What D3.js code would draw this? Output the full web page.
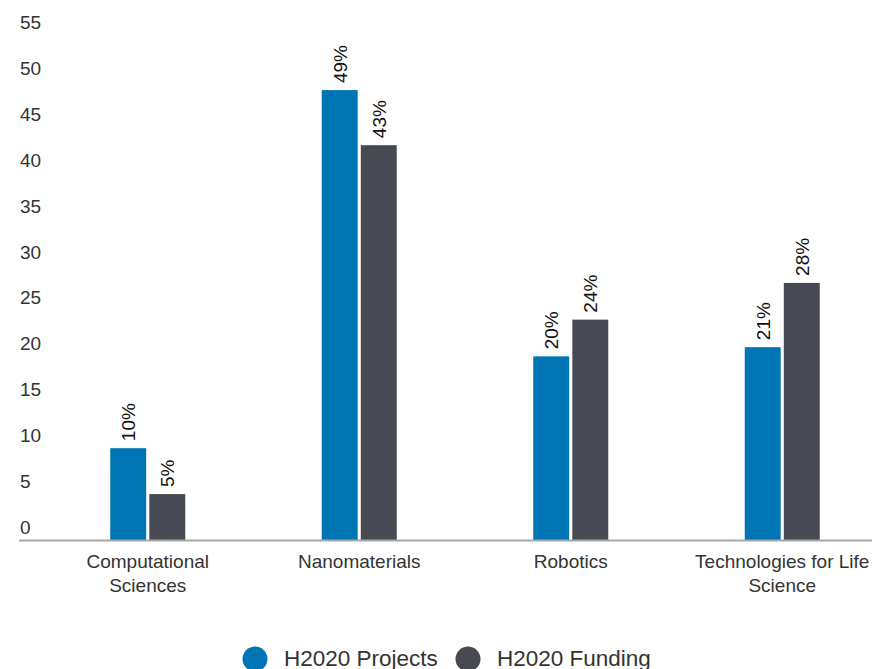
<!DOCTYPE html>
<html>
<head>
<meta charset="utf-8">
<script src="https://cdn.jsdelivr.net/npm/d3@7/dist/d3.min.js"></script>
<style>
  html, body { margin: 0; padding: 0; background: #fff; }
  svg { display: block; font-family: "Liberation Sans", Arial, sans-serif; }
</style>
</head>
<body>
<svg id="chart" width="872" height="669"></svg>
<script>
// ---- data ----
const categories = ["Computational Sciences", "Nanomaterials", "Robotics", "Technologies for Life Science"];
const categoryLines = [["Computational", "Sciences"], ["Nanomaterials"], ["Robotics"], ["Technologies for Life", "Science"]];
const seriesNames = ["H2020 Projects", "H2020 Funding"];
const projectsValues = [10, 49, 20, 21];
const fundingValues = [5, 43, 24, 28];
const projectsLabels = ["10%", "49%", "20%", "21%"];
const fundingLabels = ["5%", "43%", "24%", "28%"];
const yTicks = [0, 5, 10, 15, 20, 25, 30, 35, 40, 45, 50, 55];
const colors = ["#0075b4", "#474a52"];

const seriesValues = [projectsValues, fundingValues];
const seriesLabels = [projectsLabels, fundingLabels];

const svg = d3.select("#chart");

const y = d3.scaleLinear().domain([0, 55]).range([540, 35]);
const x0 = d3.scaleBand().domain(categories).range([42, 888])
  .paddingInner(1 - 75 / 211.5).paddingOuter((1 - 75 / 211.5) / 2);
const x1 = d3.scaleBand().domain(seriesNames).range([0, x0.bandwidth()]).paddingInner(0.08);

// y tick labels
svg.append("g").selectAll("text").data(yTicks).join("text")
  .attr("x", 20)
  .attr("y", d => y(d) - 6)
  .attr("fill", "#333")
  .attr("font-size", 19)
  .text(d => d);

// bars
const groups = svg.append("g").selectAll("g").data(categories).join("g")
  .attr("transform", d => `translate(${x0(d)},0)`);

seriesNames.forEach((s, si) => {
  groups.append("rect")
    .attr("x", x1(s))
    .attr("y", (d, i) => y(seriesValues[si][i]))
    .attr("width", x1.bandwidth())
    .attr("height", (d, i) => y(0) - y(seriesValues[si][i]))
    .attr("fill", colors[si]);

  groups.append("text")
    .attr("transform", (d, i) => `translate(${x1(s) + x1.bandwidth() / 2 + 7},${y(seriesValues[si][i]) - 7}) rotate(-90)`)
    .attr("fill", "#111")
    .attr("font-size", 19)
    .text((d, i) => seriesLabels[si][i]);
});

// x axis line
svg.append("line")
  .attr("x1", 19).attr("x2", 872)
  .attr("y1", y(0) + 0.5).attr("y2", y(0) + 0.5)
  .attr("stroke", "#a8a8a8").attr("stroke-width", 2);

// category labels
const cl = svg.append("g").selectAll("text").data(categories).join("text")
  .attr("text-anchor", "middle")
  .attr("fill", "#333")
  .attr("font-size", 19);
cl.each(function(d, i) {
  const t = d3.select(this);
  categoryLines[i].forEach((line, li) => {
    t.append("tspan")
      .attr("x", x0(d) + x0.bandwidth() / 2)
      .attr("y", 568 + li * 23.5)
      .text(line);
  });
});

// legend
const legendItems = [{ name: seriesNames[0], cx: 255, tx: 284 }, { name: seriesNames[1], cx: 468, tx: 497 }];
const lg = svg.append("g");
legendItems.forEach((item, i) => {
  lg.append("circle").attr("cx", item.cx).attr("cy", 659).attr("r", 12.5).attr("fill", colors[i]);
  lg.append("text").attr("x", item.tx).attr("y", 666)
    .attr("font-size", 22.5).attr("fill", "#333").text(item.name);
});
</script>
</body>
</html>
